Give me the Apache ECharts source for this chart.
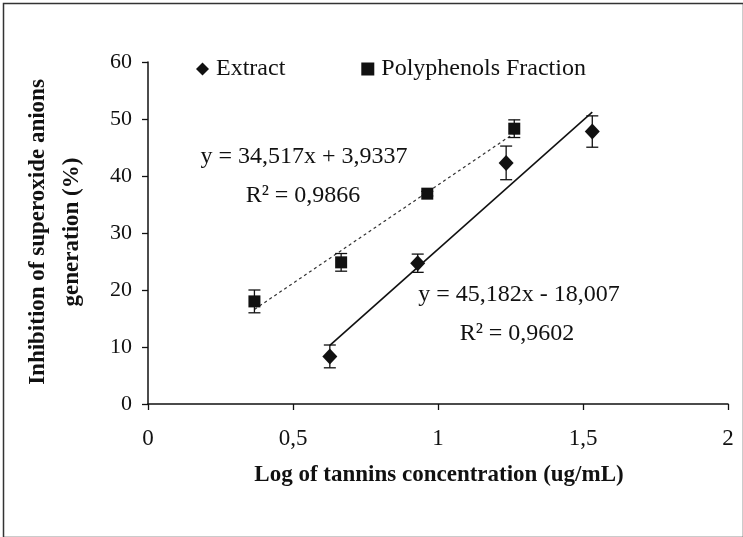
<!DOCTYPE html>
<html><head><meta charset="utf-8">
<script src="https://cdn.jsdelivr.net/npm/echarts@6/dist/echarts.min.js"></script>
<style>html,body{margin:0;padding:0;background:#fff}#c{width:743px;height:537px}</style>
</head><body><div id="c"></div>
<script>
// ---- data ----
const xTickLabels = ['0', '0,5', '1', '1,5', '2'];
const yTickLabels = ['0', '10', '20', '30', '40', '50', '60'];

const extractX   = [0.627, 0.930, 1.235, 1.532];
const extractY   = [8.35, 24.7, 42.3, 47.8];
const extractErr = [2.0, 1.6, 2.95, 2.75];

const polyX   = [0.367, 0.666, 0.963, 1.263];
const polyY   = [18.0, 24.85, 36.9, 48.3];
const polyErr = [2.0, 1.55, 0.4, 1.55];

// trendline end points
const extractTrendX = [0.627, 1.532];
const extractTrendY = [10.3, 51.2];
const polyTrendX = [0.367, 1.263];
const polyTrendY = [16.6, 47.5];

const eqPoly = ['y = 34,517x + 3,9337', 'R\u00B2 = 0,9866'];
const eqExtract = ['y = 45,182x - 18,007', 'R\u00B2 = 0,9602'];

// ---- build ----
const FONT = "'Liberation Serif', 'Times New Roman', serif";
const zip = (a, b) => a.map((v, i) => [v, b[i]]);
const errData = (xs, ys, es) => xs.map((x, i) => [x, ys[i] - es[i], ys[i] + es[i]]);

function renderErr(params, api) {
  const x = api.value(0);
  const lo = api.coord([x, api.value(1)]);
  const hi = api.coord([x, api.value(2)]);
  const w = 6;
  const style = { stroke: '#111', lineWidth: 1.3, fill: 'none' };
  return {
    type: 'group',
    children: [
      { type: 'line', shape: { x1: lo[0], y1: lo[1], x2: hi[0], y2: hi[1] }, style },
      { type: 'line', shape: { x1: lo[0] - w, y1: lo[1], x2: lo[0] + w, y2: lo[1] }, style },
      { type: 'line', shape: { x1: hi[0] - w, y1: hi[1], x2: hi[0] + w, y2: hi[1] }, style }
    ]
  };
}

const chart = echarts.init(document.getElementById('c'), null, { renderer: 'canvas' });
chart.setOption({
  backgroundColor: '#fff',
  animation: false,
  textStyle: { fontFamily: FONT, color: '#111' },
  grid: { left: 148, right: 15, top: 62, bottom: 133, containLabel: false },
  legend: {
    left: 191, top: 52,
    itemWidth: 13, itemHeight: 13, itemGap: 76,
    selectedMode: false,
    textStyle: { fontFamily: FONT, fontSize: 24, color: '#111', padding: [0, 0, 0, 2] },
    data: [
      { name: 'Extract', icon: 'diamond', itemStyle: { color: '#111', opacity: 1 } },
      { name: 'Polyphenols Fraction', icon: 'rect', itemStyle: { color: '#111', opacity: 1 } }
    ]
  },
  xAxis: {
    type: 'value', min: 0, max: 2, interval: 0.5,
    splitLine: { show: false },
    axisLine: { lineStyle: { color: '#111', width: 1.5 } },
    axisTick: { length: 6, lineStyle: { color: '#111', width: 1.3 } },
    axisLabel: {
      fontFamily: FONT, fontSize: 23, color: '#111', margin: 23,
      formatter: v => xTickLabels[Math.round(v / 0.5)]
    }
  },
  yAxis: {
    type: 'value', min: 0, max: 60, interval: 10,
    splitLine: { show: false },
    axisLine: { show: true, lineStyle: { color: '#111', width: 1.5 } },
    axisTick: { show: true, length: 6, lineStyle: { color: '#111', width: 1.3 } },
    axisLabel: {
      fontFamily: FONT, fontSize: 22, color: '#111', margin: 16,
      formatter: v => yTickLabels[Math.round(v / 10)]
    }
  },
  series: [
    {
      type: 'line', data: zip(polyTrendX, polyTrendY), symbol: 'none',
      lineStyle: { color: '#333', width: 1.2, type: [3, 3] }, silent: true, z: 1
    },
    {
      type: 'line', data: zip(extractTrendX, extractTrendY), symbol: 'none',
      lineStyle: { color: '#111', width: 1.6 }, silent: true, z: 1
    },
    { type: 'custom', renderItem: renderErr, data: errData(extractX, extractY, extractErr), z: 2, silent: true },
    { type: 'custom', renderItem: renderErr, data: errData(polyX, polyY, polyErr), z: 2, silent: true },
    {
      name: 'Extract', type: 'scatter', data: zip(extractX, extractY),
      symbol: 'diamond', symbolSize: [15, 16], itemStyle: { color: '#111', opacity: 1 }, z: 3
    },
    {
      name: 'Polyphenols Fraction', type: 'scatter', data: zip(polyX, polyY),
      symbol: 'rect', symbolSize: [12, 12], itemStyle: { color: '#111', opacity: 1 }, z: 3
    }
  ],
  graphic: [
    { type: 'rect', left: 1, top: 1, shape: { x: 0, y: 0, width: 740, height: 534 },
      style: { fill: 'none', stroke: '#333', lineWidth: 1.5 }, silent: true },
    { type: 'text', x: 304, y: 157, style: { text: eqPoly[0], font: "24px " + FONT, fill: '#111', align: 'center', verticalAlign: 'middle' } },
    { type: 'text', x: 303, y: 196, style: { text: eqPoly[1], font: "24px " + FONT, fill: '#111', align: 'center', verticalAlign: 'middle' } },
    { type: 'text', x: 519, y: 295, style: { text: eqExtract[0], font: "24px " + FONT, fill: '#111', align: 'center', verticalAlign: 'middle' } },
    { type: 'text', x: 517, y: 334, style: { text: eqExtract[1], font: "24px " + FONT, fill: '#111', align: 'center', verticalAlign: 'middle' } },
    { type: 'text', x: 439, y: 475, style: { text: 'Log of tannins concentration (ug/mL)', font: "bold 23px " + FONT, fill: '#111', align: 'center', verticalAlign: 'middle' } },
    { type: 'text', x: 55, y: 232, rotation: Math.PI / 2,
      style: { text: 'Inhibition of superoxide anions\ngeneration (%)', font: "bold 23px " + FONT, lineHeight: 34, fill: '#111', align: 'center', verticalAlign: 'middle' } }
  ]
});
</script>
</body></html>
